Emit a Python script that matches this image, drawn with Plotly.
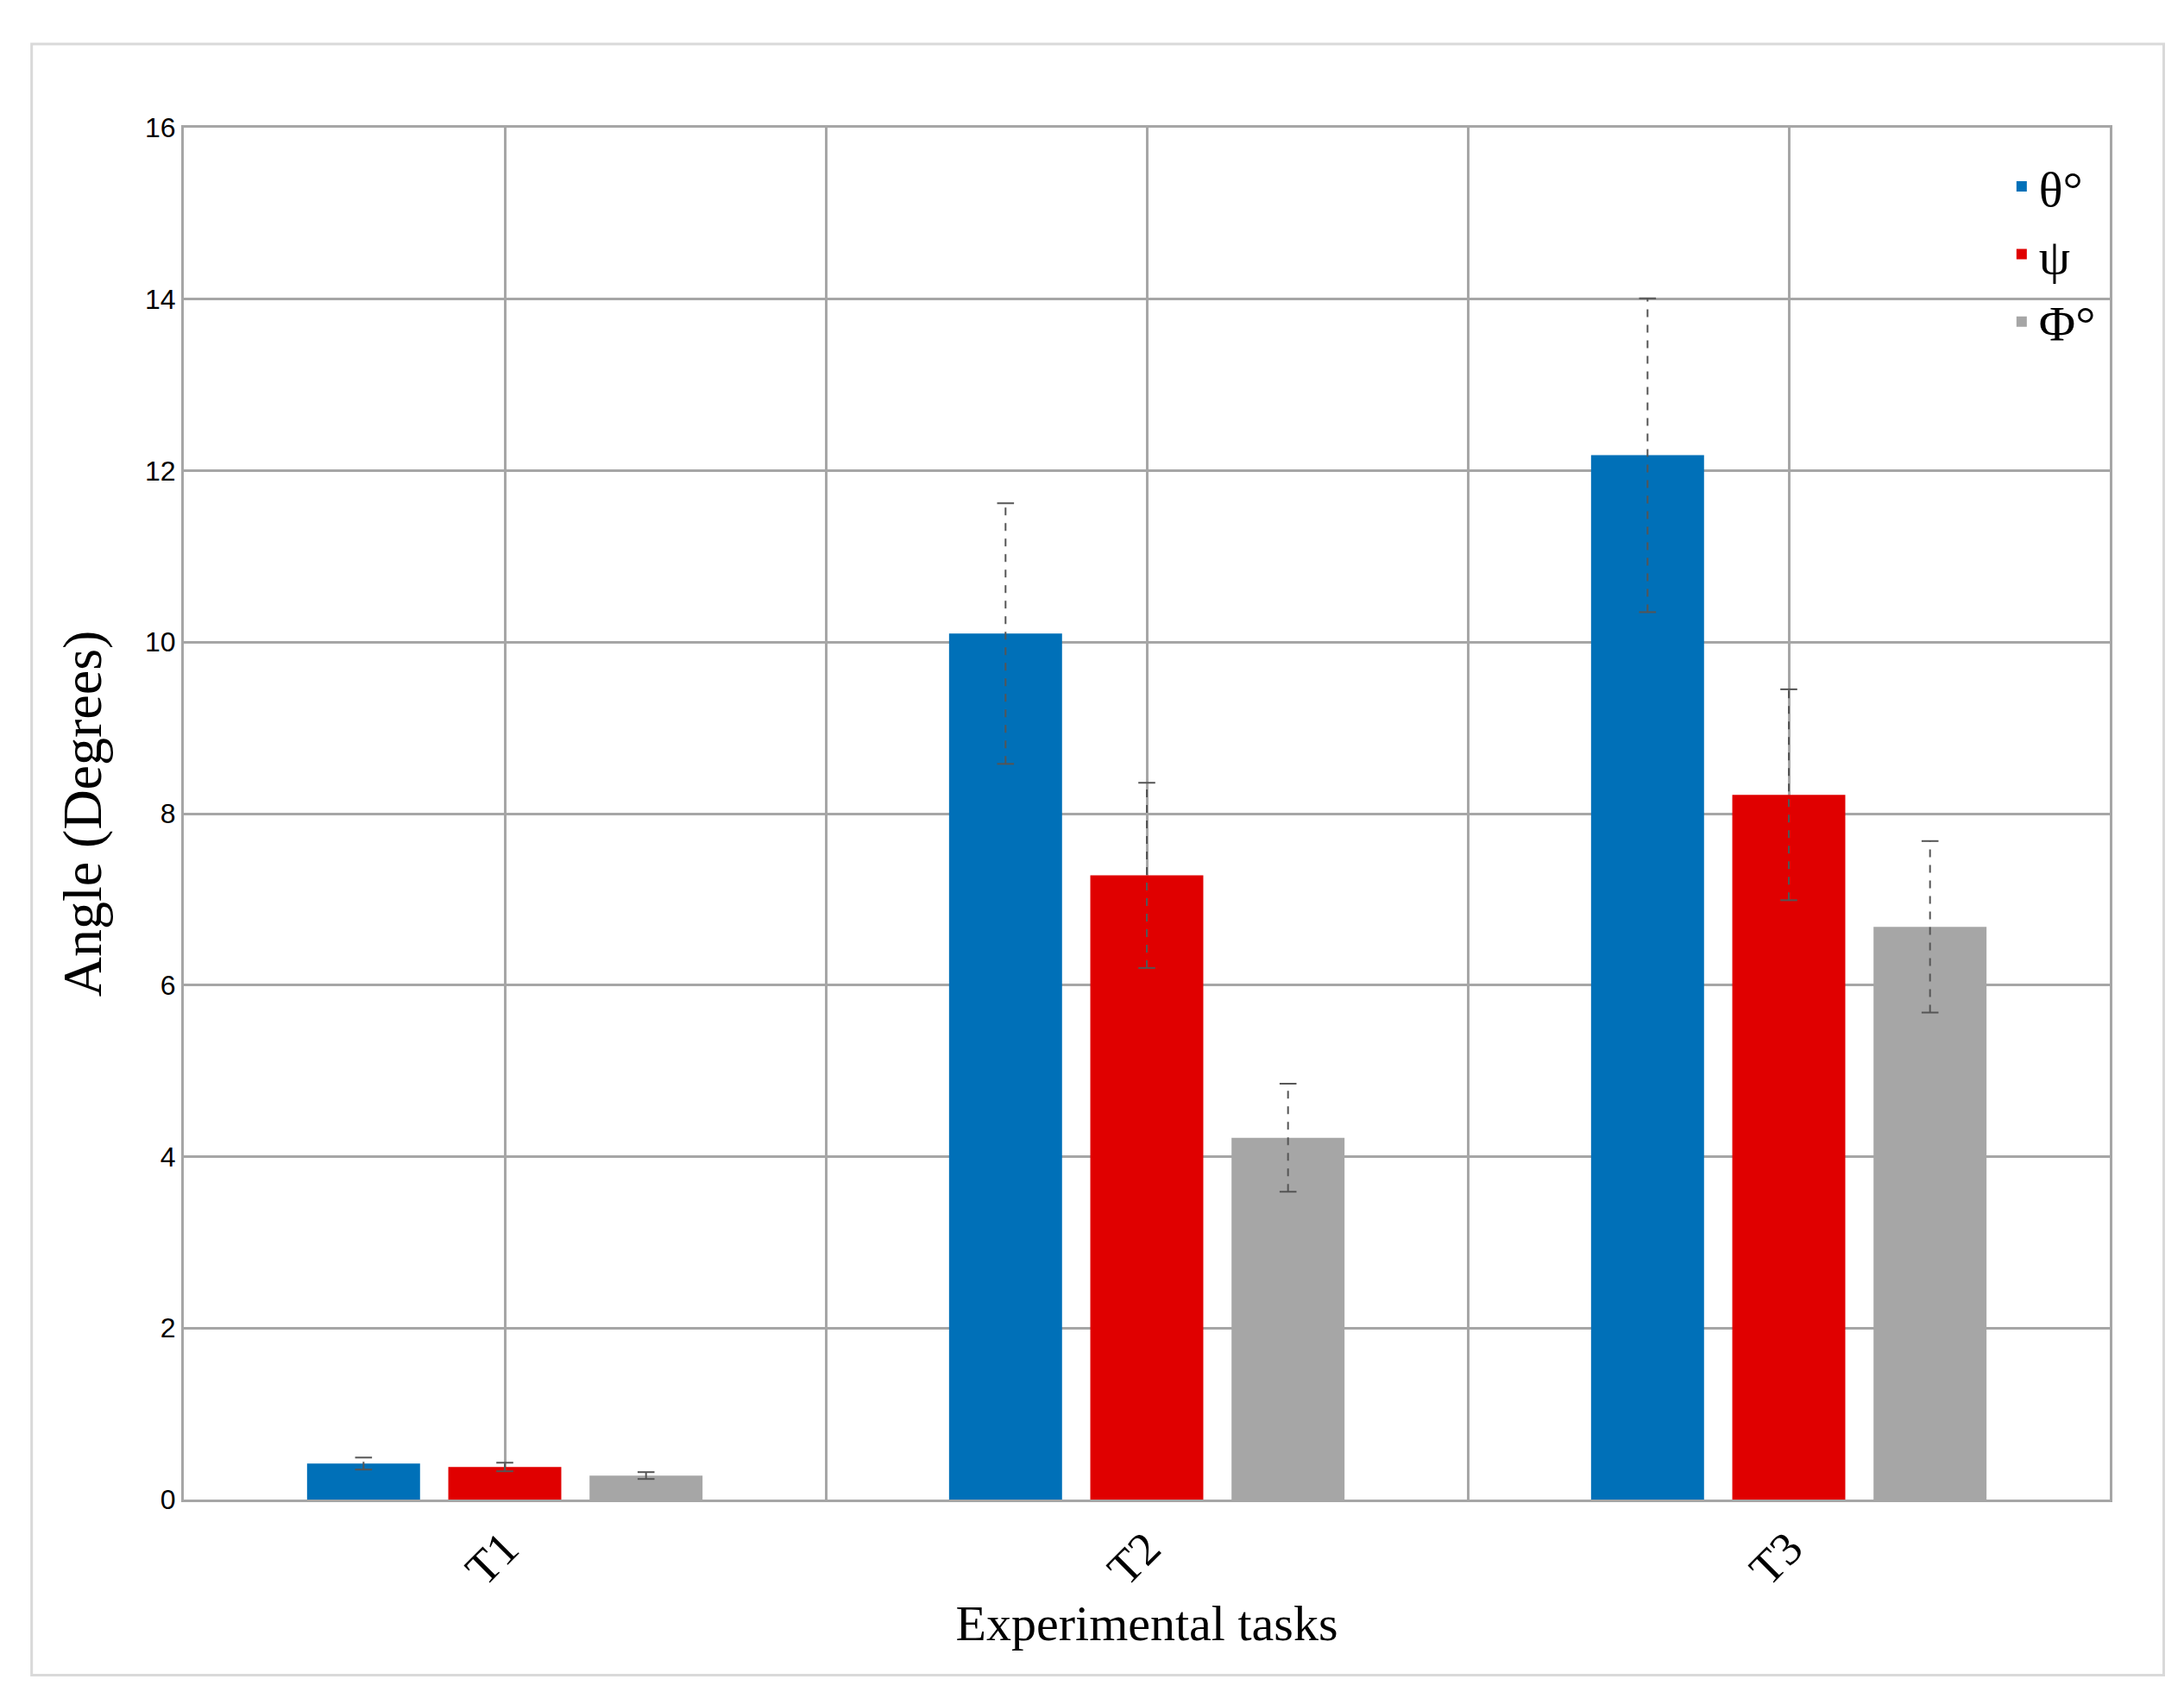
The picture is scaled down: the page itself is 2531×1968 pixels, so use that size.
import plotly.graph_objects as go

categories = ["T1", "T2", "T3"]
series = ["θ°", "ψ", "Φ°"]
theta = [0.42, 10.1, 12.18]
psi = [0.38, 7.28, 8.22]
phi = [0.28, 4.22, 6.68]
theta_err = [0.07, 1.52, 1.83]
psi_err = [0.05, 1.08, 1.23]
phi_err = [0.04, 0.63, 1.0]
colors = ["#0070B8", "#E00000", "#A6A6A6"]

vals = [theta, psi, phi]
errs = [theta_err, psi_err, phi_err]
xpos = [0, 1, 2]
offs = [-0.22, 0, 0.22]

fig = go.Figure()
for name, v, c in zip(series, vals, colors):
    fig.add_trace(go.Bar(x=xpos, y=v, name=name, marker=dict(color=c, line=dict(width=0))))

for v, e, o in zip(vals, errs, offs):
    xs, ys, cx, cy = [], [], [], []
    for xi, vi, ei in zip(xpos, v, e):
        xs += [xi + o, xi + o, None]
        ys += [vi - ei, vi + ei, None]
        cx += [xi + o, xi + o]
        cy += [vi - ei, vi + ei]
    fig.add_trace(go.Scatter(x=xs, y=ys, mode="lines", showlegend=False,
                             line=dict(color="#555555", width=2, dash="dash"), hoverinfo="skip"))
    fig.add_trace(go.Scatter(x=cx, y=cy, mode="markers", showlegend=False,
                             marker=dict(symbol="line-ew", size=14, line=dict(color="#555555", width=2)),
                             hoverinfo="skip"))

fig.update_layout(
    width=2531, height=1968, paper_bgcolor="white", plot_bgcolor="white",
    barmode="group", bargap=0.34, bargroupgap=0.2,
    margin=dict(l=205, r=94, t=140, b=238),
    font=dict(family="Liberation Sans", color="black"),
    legend=dict(x=0.995, y=0.985, xanchor="right", yanchor="top",
                font=dict(family="Liberation Serif", size=58), itemsizing="constant",
                bgcolor="rgba(0,0,0,0)", tracegroupgap=20),
    xaxis=dict(range=[-0.5, 2.5], tickmode="array", tickvals=xpos, ticktext=categories,
               tickangle=-45, tickfont=dict(family="Liberation Serif", size=54),
               showgrid=True, gridcolor="#A6A6A6", gridwidth=3,
               minor=dict(tickvals=[-0.5, 0.5, 1.5, 2.5], showgrid=True, gridcolor="#A6A6A6", gridwidth=3),
               showline=True, linecolor="#A6A6A6", linewidth=3, mirror=True,
               title=dict(text="Experimental tasks", font=dict(family="Liberation Serif", size=58), standoff=10)),
    yaxis=dict(range=[0, 16], dtick=2, tickfont=dict(size=32),
               showgrid=True, gridcolor="#A6A6A6", gridwidth=3, zeroline=False,
               showline=True, linecolor="#A6A6A6", linewidth=3, mirror=True, ticks="", ticklen=0,
               title=dict(text="Angle (Degrees)", font=dict(family="Liberation Serif", size=64), standoff=30)),
)
fig.add_shape(type="rect", xref="paper", yref="paper", x0=-0.079, x1=1.028, y0=-0.128, y1=1.061,
              line=dict(color="#D9D9D9", width=3))
fig.write_html("out.html")
